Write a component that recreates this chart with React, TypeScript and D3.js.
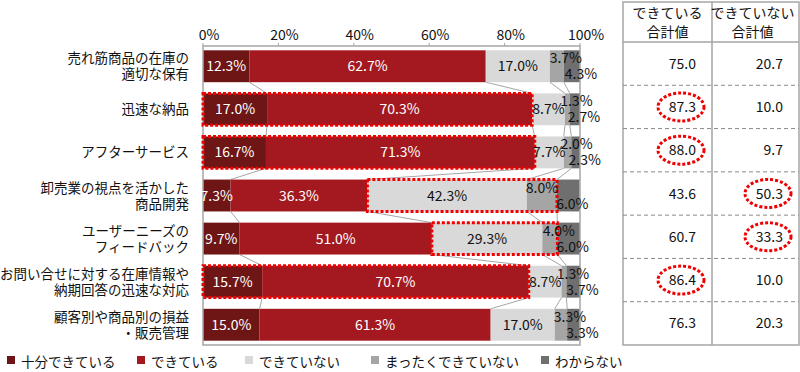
import { useEffect, useRef } from 'react'
import * as d3 from 'd3'

const categories = [
  ['売れ筋商品の在庫の', '適切な保有'],
  ['迅速な納品'],
  ['アフターサービス'],
  ['卸売業の視点を活かした', '商品開発'],
  ['ユーザーニーズの', 'フィードバック'],
  ['お問い合せに対する在庫情報や', '納期回答の迅速な対応'],
  ['顧客別や商品別の損益', '・販売管理'],
]
const seriesNames = ['十分できている', 'できている', 'できていない', 'まったくできていない', 'わからない']
const fully = [12.3, 17.0, 16.7, 7.3, 9.7, 15.7, 15.0]
const done = [62.7, 70.3, 71.3, 36.3, 51.0, 70.7, 61.3]
const notDone = [17.0, 8.7, 7.7, 42.3, 29.3, 8.7, 17.0]
const notAtAll = [3.7, 1.3, 2.0, 8.0, 4.0, 1.3, 3.3]
const unknown = [4.3, 2.7, 2.3, 6.0, 6.0, 3.7, 3.3]
const doneTotal = [75.0, 87.3, 88.0, 43.6, 60.7, 86.4, 76.3]
const notDoneTotal = [20.7, 10.0, 9.7, 50.3, 33.3, 10.0, 20.3]
// which total is circled per row: 0 = できている, 1 = できていない, -1 = none
const highlight = [-1, 0, 0, 1, 1, 0, -1]
const xTicks = [0, 20, 40, 60, 80, 100]
const tableHeaders = [['できている', '合計値'], ['できていない', '合計値']]

const COLORS = ['#6e1616', '#a3191f', '#d9d9d9', '#a5a5a5', '#6f6f6f']
const FONT = '"Noto Sans CJK JP", "Noto Sans", sans-serif'
const RED = '#f00000'

export default function App() {
  const svgRef = useRef<SVGSVGElement>(null)

  useEffect(() => {
    if (!svgRef.current) return
    const svg = d3.select(svgRef.current)
    svg.selectAll('*').remove()
    svg.attr('font-family', FONT)

    const series = [fully, done, notDone, notAtAll, unknown]
    const rows = categories.map((_, i) => {
      let acc = 0
      return series.map(s => {
        const seg = { x0: acc, x1: acc + s[i], v: s[i] }
        acc += s[i]
        return seg
      })
    })

    const x = d3.scaleLinear().domain([0, 100]).range([203, 580])
    const y = d3.scaleBand<number>()
      .domain(categories.map((_, i) => i))
      .range([46, 345])
      .paddingInner(0.26)
      .paddingOuter(0.1)
    const bw = y.bandwidth()
    const cy = (i: number) => (y(i) as number) + bw / 2

    // series lines between bars
    const g = svg.append('g')
    for (let i = 0; i < rows.length - 1; i++) {
      for (let k = 0; k < 4; k++) {
        g.append('line')
          .attr('x1', x(rows[i][k].x1)).attr('y1', (y(i) as number) + bw)
          .attr('x2', x(rows[i + 1][k].x1)).attr('y2', y(i + 1) as number)
          .attr('stroke', '#a6a6a6').attr('stroke-width', 1)
      }
    }

    // bars
    rows.forEach((segs, i) => {
      segs.forEach((s, k) => {
        g.append('rect')
          .attr('x', x(s.x0)).attr('y', y(i) as number)
          .attr('width', x(s.x1) - x(s.x0)).attr('height', bw)
          .attr('fill', COLORS[k])
      })
    })

    // plot frame
    g.append('rect')
      .attr('x', x(0)).attr('y', 46).attr('width', x(100) - x(0)).attr('height', 299)
      .attr('fill', 'none').attr('stroke', '#a6a6a6').attr('stroke-width', 1.5)
    xTicks.forEach(t => {
      g.append('line').attr('x1', x(t)).attr('x2', x(t)).attr('y1', 43).attr('y2', 46)
        .attr('stroke', '#a6a6a6')
      g.append('text').attr('x', x(t) + 6).attr('y', 40)
        .attr('text-anchor', 'middle').attr('font-size', 14).attr('fill', '#111')
        .text(`${t}%`)
    })

    // red dashed boxes
    rows.forEach((segs, i) => {
      const h = highlight[i]
      if (h < 0) return
      const a = h === 0 ? 0 : doneTotal[i]
      const b = h === 0 ? doneTotal[i] : doneTotal[i] + notDoneTotal[i]
      g.append('rect')
        .attr('x', x(a)).attr('y', y(i) as number)
        .attr('width', x(b) - x(a)).attr('height', bw)
        .attr('fill', 'none').attr('stroke', RED).attr('stroke-width', 3)
        .attr('stroke-dasharray', '3,2')
    })

    // data labels
    rows.forEach((segs, i) => {
      segs.forEach((s, k) => {
        let lx = x((s.x0 + s.x1) / 2)
        let ly = cy(i) + 5
        if (k === 3) { ly -= 8; lx += s.v < 5 ? 9 : 0 }
        if (k === 4) { ly += 8; lx += s.v < 5 ? 9 : 4 }
        g.append('text').attr('x', lx).attr('y', ly)
          .attr('text-anchor', 'middle').attr('font-size', 14)
          .attr('fill', k < 2 ? '#fff' : '#111')
          .text(`${s.v.toFixed(1)}%`)
      })
    })

    // category labels
    categories.forEach((lines, i) => {
      const t = g.append('text').attr('text-anchor', 'end').attr('font-size', 13.5).attr('fill', '#111')
      lines.forEach((ln, j) => {
        const base = lines.length === 1 ? cy(i) + 5 : cy(i) - 3 + j * 16
        t.append('tspan').attr('x', 189).attr('y', base).text(ln)
      })
    })

    // table
    const tx = [623, 712, 799]
    const ty = d3.scaleBand<number>().domain(categories.map((_, i) => i)).range([42, 345])
    const tg = svg.append('g')
    tg.append('rect').attr('x', tx[0]).attr('y', 2).attr('width', tx[2] - tx[0]).attr('height', 343)
      .attr('fill', 'none').attr('stroke', '#a6a6a6').attr('stroke-width', 1.5)
    tg.append('line').attr('x1', tx[1]).attr('x2', tx[1]).attr('y1', 2).attr('y2', 345)
      .attr('stroke', '#a6a6a6').attr('stroke-width', 1.5)
    tg.append('line').attr('x1', tx[0]).attr('x2', tx[2]).attr('y1', 42).attr('y2', 42)
      .attr('stroke', '#a6a6a6').attr('stroke-width', 1.5)
    categories.slice(1).forEach((_, i) => {
      const yy = ty(i + 1) as number
      tg.append('line').attr('x1', tx[0]).attr('x2', tx[2]).attr('y1', yy).attr('y2', yy)
        .attr('stroke', '#8a8a8a').attr('stroke-width', 1).attr('stroke-dasharray', '4,3')
    })
    tableHeaders.forEach((lines, c) => {
      const t = tg.append('text').attr('text-anchor', 'middle').attr('font-size', 14).attr('fill', '#111')
      lines.forEach((ln, j) => {
        t.append('tspan').attr('x', (tx[c] + tx[c + 1]) / 2 - (c === 1 ? 3 : 0)).attr('y', 18 + j * 19).text(ln)
      })
    })
    const cols = [doneTotal, notDoneTotal]
    cols.forEach((vals, c) => {
      vals.forEach((v, i) => {
        const yc = (ty(i) as number) + ty.bandwidth() / 2
        const rx = tx[c + 1] - 16
        tg.append('text').attr('x', rx).attr('y', yc + 5)
          .attr('text-anchor', 'end').attr('font-size', 14).attr('fill', '#111')
          .text(v.toFixed(1))
        if (highlight[i] === c) {
          tg.append('ellipse').attr('cx', rx - 15).attr('cy', yc)
            .attr('rx', 23).attr('ry', 14)
            .attr('fill', 'none').attr('stroke', RED).attr('stroke-width', 3)
            .attr('stroke-dasharray', '3,2')
        }
      })
    })

    // legend
    const legendX = [7, 137, 245, 371, 541]
    seriesNames.forEach((name, k) => {
      svg.append('rect').attr('x', legendX[k]).attr('y', 356).attr('width', 8).attr('height', 8)
        .attr('fill', COLORS[k])
      svg.append('text').attr('x', legendX[k] + 14).attr('y', 367)
        .attr('font-size', 13.5).attr('fill', '#111').text(name)
    })
  }, [])

  return (
    <svg ref={svgRef} width={800} height={372}
      style={{ position: 'absolute', left: 0, top: 0, background: '#fff' }} />
  )
}
